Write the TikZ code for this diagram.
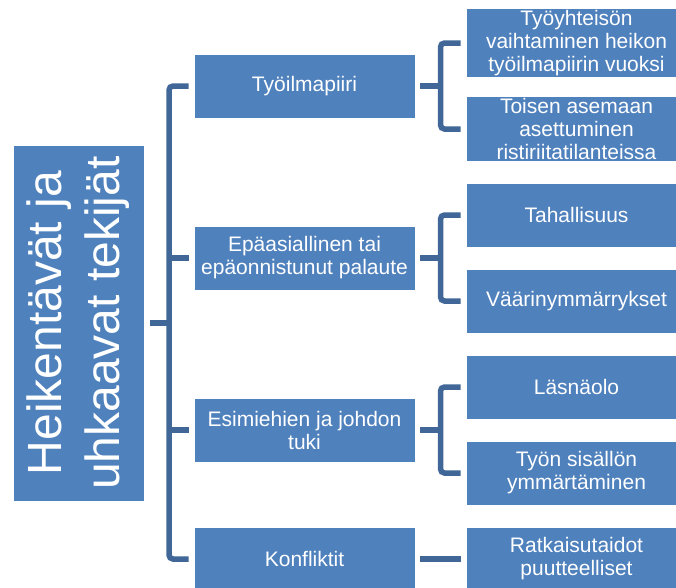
\documentclass[tikz,border=0pt]{standalone}
\usepackage{fontspec}
\setmainfont{Liberation Sans}
\usetikzlibrary{calc}
\definecolor{boxfill}{RGB}{79,129,189}
\definecolor{linkcol}{RGB}{64,103,152}
\tikzset{
  box/.style={fill=boxfill, draw=white, line width=0.8pt, text=white,
    minimum width=221pt, minimum height=64pt, inner sep=2pt, align=center,
    font=\fontsize{21}{23}\selectfont},
  rootbox/.style={fill=boxfill, draw=white, line width=0.8pt, text=white,
    minimum width=356pt, minimum height=131pt, inner sep=0pt, align=center,
    rotate=90, font=\fontsize{48}{58}\selectfont},
  conn/.style={draw=linkcol, line width=5.5pt, rounded corners=4pt}
}
\begin{document}
\begin{tikzpicture}[x=1pt, y=-1pt]
  \useasboundingbox[fill=white] (0,0) rectangle (676,587);

  % root
  \node[rootbox] (root) at (78.5,323) {Heikentävät ja\\uhkaavat tekijät};

  % first level
  \node[box] (l1a) at (304.5,86)  {Työilmapiiri};
  \node[box] (l1b) at (304.5,258) {Epäasiallinen tai\\epäonnistunut palaute};
  \node[box] (l1c) at (304.5,430) {Esimiehien ja johdon\\tuki};
  \node[box] (l1d) at (304.5,559) {Konfliktit};

  % second level
  \node[box] (l2a) at (576.5,43)  {Työyhteisön\\vaihtaminen heikon\\työilmapiirin vuoksi};
  \node[box] (l2b) at (576.5,129) {Toisen asemaan\\asettuminen\\ristiriitatilanteissa};
  \node[box] (l2c) at (576.5,215) {Tahallisuus};
  \node[box] (l2d) at (576.5,301) {Väärinymmärrykset};
  \node[box] (l2e) at (576.5,387) {Läsnäolo};
  \node[box] (l2f) at (576.5,473) {Työn sisällön\\ymmärtäminen};
  \node[box] (l2g) at (576.5,559) {Ratkaisutaidot\\puutteelliset};

  % spine from the root to the first level
  \coordinate (sp) at ($(root.south)!0.5!(l1a.west)$);
  \draw[conn] ([xshift=6pt]root.south) -- (sp |- root.south);
  \draw[conn] ([xshift=-5pt]l1a.west) -| (sp) |- ([xshift=-5pt]l1d.west);
  \draw[conn] (sp |- l1b.west) -- ([xshift=-5pt]l1b.west);
  \draw[conn] (sp |- l1c.west) -- ([xshift=-5pt]l1c.west);

  % brackets to the second level
  \foreach \p/\u/\v in {l1a/l2a/l2b, l1b/l2c/l2d, l1c/l2e/l2f}{
    \coordinate (m) at ($(\p.east)!0.5!(\u.west)$);
    \draw[conn] ([xshift=5pt]\p.east) -- (m |- \p.east);
    \draw[conn] ([xshift=-5pt]\u.west) -| (m) |- ([xshift=-5pt]\v.west);
  }
  \draw[conn] ([xshift=5pt]l1d.east) -- ([xshift=-5pt]l2g.west);
\end{tikzpicture}
\end{document}
